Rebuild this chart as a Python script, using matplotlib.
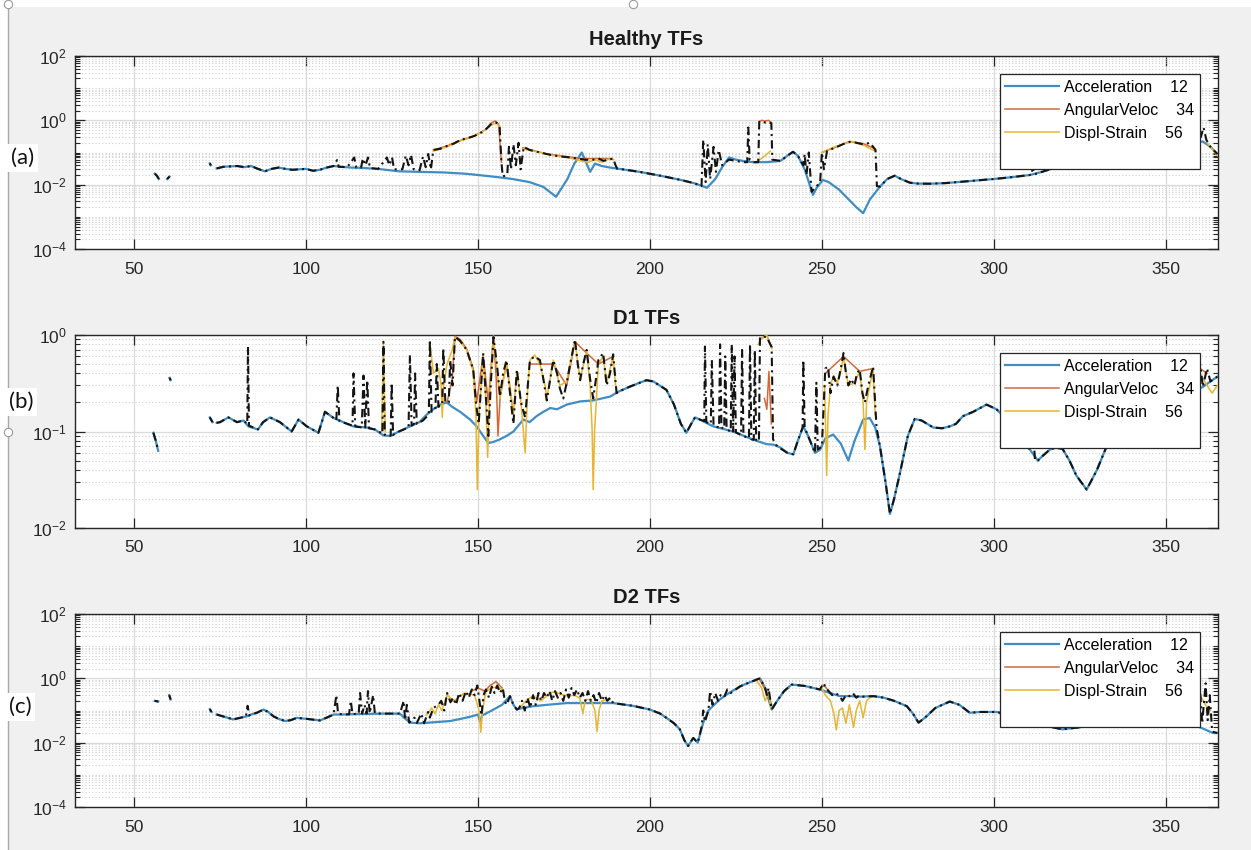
import numpy as np
import matplotlib
matplotlib.use("Agg")
import matplotlib.pyplot as plt
from matplotlib.lines import Line2D
from matplotlib.patches import Rectangle
from matplotlib.ticker import FixedLocator, NullFormatter, LogFormatterSciNotation

plt.rcParams['font.family'] = ['Liberation Sans', 'DejaVu Sans']
plt.rcParams['mathtext.fontset'] = 'custom'
plt.rcParams['mathtext.rm'] = 'Liberation Sans'
plt.rcParams['mathtext.it'] = 'Liberation Sans:italic'
plt.rcParams['mathtext.bf'] = 'Liberation Sans:bold'

nan = float('nan')
GAP = (nan, nan)

titles = ['Healthy TFs', 'D1 TFs', 'D2 TFs']
panel_tags = ['(a)', '(b)', '(c)']
legend_labels = ['Acceleration    12', 'AngularVeloc    34', 'Displ-Strain    56']
x_ticks = [50, 100, 150, 200, 250, 300, 350]

# ---------------- Healthy ----------------
healthy_acc = [
    (56.0, 0.022), (56.6, 0.019), (57.2, 0.015), GAP,
    (59.6, 0.015), (60.3, 0.018), GAP,
    (72.0, 0.046), (72.3, 0.040), GAP,
    (74, 0.032), (76, 0.036), (78, 0.037), (80, 0.038), (82, 0.035), (84, 0.038),
    (86, 0.031), (88, 0.026), (90, 0.031), (92, 0.034), (94, 0.031), (96, 0.029),
    (98, 0.030), (100, 0.031), (102, 0.027), (104, 0.029), (106, 0.034), (108, 0.038),
    (110, 0.036), (113, 0.034), (117, 0.033), (122, 0.030), (127, 0.026), (133, 0.025),
    (140, 0.024), (146, 0.022), (150, 0.020), (156, 0.017), (160, 0.015), (165, 0.012),
    (169, 0.0085), (172.7, 0.0042), (176, 0.015), (178, 0.045), (180.2, 0.10),
    (182.6, 0.025), (184, 0.045), (186, 0.038), (188.4, 0.034), (192, 0.030),
    (197, 0.025), (203, 0.019), (209, 0.014), (213, 0.011), (216.6, 0.008),
    (219, 0.015), (221, 0.035), (223, 0.07), (225, 0.06), (227, 0.055), (230, 0.05),
    (234, 0.05), (238, 0.055), (240, 0.08), (241.6, 0.105), (243, 0.08), (245, 0.03),
    (247.4, 0.0048), (248.5, 0.008), (250.3, 0.014), (252, 0.012), (255, 0.007),
    (258, 0.0033), (260, 0.002), (262, 0.0013), (264, 0.0035), (266.9, 0.0087),
    (269, 0.015), (271.2, 0.019), (273, 0.015), (275.6, 0.0115), (278, 0.0108),
    (281.4, 0.0107), (286, 0.0112), (291, 0.0124), (296, 0.0138), (300, 0.015),
    (305, 0.017), (310.5, 0.020), (314, 0.025), (318, 0.034), (323, 0.040),
    (330, 0.050), (338, 0.070), (345, 0.10), (352, 0.15), (357, 0.20), (360.8, 0.22),
    (363, 0.15), (365, 0.09),
]
healthy_ang = [
    (137, 0.12), (141, 0.16), (145, 0.24), (149, 0.33), (152, 0.50), (154, 0.85),
    (155, 0.95), (156, 0.75), (156.8, 0.05), GAP,
    (163, 0.14), (170, 0.09), (180, 0.065), (189, 0.065), GAP,
    (231.8, 0.9), (232.5, 1.0), (233.5, 0.95), (234.5, 1.0), (235.3, 0.85), GAP,
    (250, 0.10), (255, 0.16), (258, 0.22), (262, 0.19), (265.5, 0.13),
]
healthy_dsp = [
    (137, 0.11), (141, 0.15), (145, 0.23), (149, 0.32), (152, 0.50), (154, 0.75),
    (155.5, 0.80), (156.5, 0.55), GAP,
    (163, 0.13), (168, 0.10), (172, 0.08), (176, 0.07), (178, 0.062), (180, 0.055),
    (182, 0.050), (184, 0.060), (186, 0.050), (188, 0.062), (189.5, 0.060), GAP,
    (232, 0.06), (233.5, 0.08), (235, 0.11), GAP,
    (250, 0.10), (253, 0.14), (256, 0.18), (259, 0.22), (262, 0.17), (265.5, 0.11), GAP,
    (362, 0.20), (365, 0.08),
]
healthy_tf = [
    (56.0, 0.022), (56.6, 0.019), (57.2, 0.015), GAP,
    (59.6, 0.015), (60.3, 0.018), GAP,
    (72.0, 0.046), (72.3, 0.040), GAP,
    (74, 0.032), (76, 0.036), (78, 0.037), (80, 0.038), (82, 0.035), (84, 0.038),
    (86, 0.031), (88, 0.026), (90, 0.031), (92, 0.034), (94, 0.031), (96, 0.029),
    (98, 0.030), (100, 0.031), (102, 0.027), (104, 0.029), (106, 0.034), (108, 0.038),
    (109, 0.058), (109.5, 0.036), (112, 0.035), (114, 0.07), (114.6, 0.034),
    (116, 0.034), (116.5, 0.065), (117.3, 0.04), (118, 0.07), (118.6, 0.033),
    (121, 0.031), (123.5, 0.07), (124.2, 0.04), (125, 0.07), (125.6, 0.03),
    (128, 0.03), (129, 0.08), (129.8, 0.04), (130.5, 0.085), (131.3, 0.03),
    (133, 0.028), (134, 0.075), (134.8, 0.035), (135.5, 0.09), (136.3, 0.03),
    (137, 0.12), (139, 0.13), (141, 0.16), (143, 0.19), (145, 0.25), (147, 0.28),
    (149, 0.33), (151, 0.42), (152.5, 0.55), (154, 0.80), (155.4, 0.85), (156.3, 0.60),
    (156.8, 0.05), (157.2, 0.018), (158.5, 0.02), (159, 0.15), (159.6, 0.03),
    (160.3, 0.18), (161, 0.04), (161.8, 0.20), (162.4, 0.03), (163.3, 0.15),
    (165, 0.12), (168, 0.10), (171, 0.085), (174, 0.075), (177, 0.07), (179, 0.065),
    (181, 0.06), (183, 0.058), (185, 0.065), (186.5, 0.055), (188, 0.06),
    (189.3, 0.065), (190, 0.04), (190.5, 0.031), (192, 0.030), (197, 0.025),
    (203, 0.019), (209, 0.014), (213, 0.011), (215, 0.009), (215.5, 0.25),
    (216.2, 0.012), (216.8, 0.18), (217.5, 0.015), (218.5, 0.15), (219.2, 0.025),
    (220, 0.12), (221, 0.04), (223, 0.06), (225, 0.055), (227, 0.05), (228.3, 0.05),
    (228.6, 0.60), (229, 0.06), (230, 0.05), (231.5, 0.05), (231.8, 0.90),
    (232.5, 0.95), (233.5, 0.85), (234.5, 0.90), (235.3, 0.80), (235.6, 0.06),
    (238, 0.055), (240, 0.08), (241.6, 0.105), (243, 0.08), (244.6, 0.04),
    (245, 0.09), (245.5, 0.02), (246.2, 0.10), (247, 0.006), (248.5, 0.009),
    (249.5, 0.012), (250, 0.10), (250.6, 0.03), (251.5, 0.11), (253, 0.13),
    (255, 0.16), (257, 0.20), (258.5, 0.22), (260, 0.20), (262, 0.18), (264, 0.20),
    (265.6, 0.12), (266, 0.009), (266.9, 0.0087), (269, 0.015), (271.2, 0.019),
    (273, 0.015), (275.6, 0.0115), (278, 0.0108), (281.4, 0.0107), (286, 0.0112),
    (291, 0.0124), (296, 0.0138), (300, 0.015), (305, 0.017), (310.5, 0.020),
    (311, 0.020), (311.3, 0.035), (311.8, 0.021), (314, 0.025), (318, 0.034),
    (323, 0.040), (330, 0.050), (338, 0.070), (345, 0.10), (352, 0.15), (358, 0.20),
    (359.5, 0.80), (360.2, 0.30), (361, 0.60), (361.8, 0.25), (363, 0.15), (365, 0.09),
]

# ---------------- D1 ----------------
d1_acc = [
    (55.6, 0.097), (56.3, 0.08), (57.0, 0.063), GAP,
    (60.3, 0.36), (60.6, 0.34), GAP,
    (72.0, 0.14), (72.8, 0.125), GAP,
    (74, 0.123), (75, 0.125), (77.4, 0.14), (79.9, 0.125), (81.8, 0.13), (83.2, 0.113),
    (86, 0.105), (87.5, 0.125), (89.5, 0.14), (92.4, 0.125), (95.8, 0.10),
    (97.8, 0.133), (100.2, 0.113), (103.6, 0.097), (105.5, 0.16), (108, 0.138),
    (110.8, 0.125), (113.7, 0.113), (117.6, 0.110), (120, 0.105), (122.5, 0.091),
    (124.4, 0.09), (127, 0.10), (130.2, 0.113), (133, 0.125), (135.1, 0.15),
    (137, 0.17), (139, 0.19), (140.9, 0.20), (142.5, 0.18), (144.8, 0.16),
    (147.7, 0.133), (149.6, 0.113), (151.5, 0.09), (153, 0.076), (154.5, 0.078),
    (156.4, 0.083), (158.3, 0.09), (160.3, 0.10), (163.2, 0.133), (165, 0.125),
    (167, 0.144), (169, 0.16), (171, 0.175), (173, 0.17), (175.8, 0.19),
    (179.7, 0.205), (183.5, 0.21), (186, 0.22), (188.4, 0.23), (191, 0.26),
    (194, 0.29), (197, 0.32), (199, 0.34), (201, 0.33), (204.8, 0.27), (207, 0.19),
    (209, 0.12), (210.6, 0.097), (212, 0.12), (213.1, 0.14), (214.5, 0.133),
    (216, 0.125), (218.4, 0.113), (221, 0.107), (224.2, 0.10), (228, 0.088),
    (231, 0.08), (233.9, 0.074), (236, 0.073), (238, 0.068), (240, 0.06),
    (241.7, 0.058), (243, 0.08), (244.6, 0.113), (246, 0.09), (248, 0.06),
    (249.5, 0.065), (251, 0.085), (253.3, 0.093), (255.5, 0.075), (257.7, 0.05),
    (259.5, 0.08), (262, 0.133), (263.9, 0.138), (265.5, 0.11), (266.9, 0.07),
    (268.5, 0.03), (269.8, 0.014), (271, 0.02), (272.7, 0.037), (275, 0.09),
    (277, 0.135), (279, 0.13), (282.4, 0.11), (285, 0.108), (287.2, 0.113),
    (289, 0.12), (291, 0.144), (294, 0.16), (297.9, 0.19), (300.8, 0.17),
    (304, 0.13), (307, 0.09), (310.5, 0.065), (312.8, 0.05), (314, 0.055),
    (316.3, 0.065), (318, 0.068), (320, 0.066), (322, 0.05), (324, 0.035),
    (327, 0.025), (330, 0.04), (332.8, 0.07), (336, 0.10), (342, 0.14), (348, 0.18),
    (354, 0.22), (358, 0.26), (360.8, 0.29), (363, 0.33), (365, 0.37),
]
d1_ang = [
    (141, 0.20), (142.5, 0.35), (143.3, 0.97), (144.8, 0.90), (146.7, 0.72),
    (148.6, 0.45), (149.6, 0.20), (151.5, 0.62), (153, 0.20), (154.5, 1.0),
    (155.3, 0.35), (155.8, 0.09), (156.5, 0.25), (158.3, 0.50), (160.3, 0.15), GAP,
    (165, 0.50), (168, 0.50), (171.9, 0.50), (175.8, 0.30), (178.2, 0.85),
    (181.6, 0.65), (185, 0.50), (189.3, 0.60), GAP,
    (232, 0.90), (233.9, 1.0), (235.4, 0.75), GAP,
    (233.3, 0.22), (234.0, 0.17), (234.6, 0.42), (235.3, 0.12), GAP,
    (251, 0.40), (256.3, 0.60), (261, 0.42), (264.9, 0.45), GAP,
    (358, 0.55), (360, 0.45), (362, 0.40),
]
d1_dsp = [
    (122, 0.10), (122.5, 0.80), (123, 0.10), GAP,
    (136, 0.85), (137, 0.40), (138.5, 0.45), (139.3, 0.30), (139.6, 0.14),
    (140, 0.30), (141, 0.50), (142.5, 0.70), (143.3, 0.95), (144.8, 0.85),
    (146.7, 0.70), (148.6, 0.42), (149.4, 0.15), (149.8, 0.025), (150.3, 0.15),
    (151.5, 0.60), (152.3, 0.20), (152.8, 0.054), (153.4, 0.25), (154.5, 0.90),
    (155.5, 0.45), (156.4, 0.22), (158.3, 0.50), (159.3, 0.30), (160.3, 0.15),
    (161.3, 0.42), (162.5, 0.20), (163.7, 0.06), (164.5, 0.30), (165.1, 0.55),
    (166.5, 0.62), (168, 0.50), (169.5, 0.30), (170, 0.22), (171.9, 0.55),
    (173.8, 0.30), (175.8, 0.33), (177, 0.55), (178.2, 0.85), (179.7, 0.35),
    (181.6, 0.68), (182.6, 0.30), (183.2, 0.10), (183.5, 0.025), (183.9, 0.10),
    (185, 0.50), (186.4, 0.60), (187.4, 0.32), (189.3, 0.60), (190, 0.30), GAP,
    (231.5, 0.80), (232.2, 0.90), (233.9, 1.0), (235.4, 0.72), GAP,
    (250.8, 0.30), (251.1, 0.10), (251.4, 0.035), (251.8, 0.15), (252.5, 0.30),
    (253.4, 0.38), (254.5, 0.32), (255.5, 0.42), (256.3, 0.60), (257.7, 0.30),
    (259.5, 0.32), (261, 0.42), (262, 0.20), (262.5, 0.065), (263, 0.20),
    (264.9, 0.45), (265.5, 0.15), GAP,
    (360, 0.40), (362, 0.30), (363.5, 0.25), (365, 0.30),
]
d1_tf = [
    (55.6, 0.097), (56.3, 0.08), (57.0, 0.063), GAP,
    (60.3, 0.36), (60.6, 0.34), GAP,
    (72.0, 0.14), (72.8, 0.125), GAP,
    (74, 0.123), (75, 0.125), (77.4, 0.14), (79.9, 0.125), (81.8, 0.13), (82.9, 0.12),
    (83.1, 0.76), (83.4, 0.115), (86, 0.105), (87.5, 0.125), (89.5, 0.14),
    (92.4, 0.125), (95.8, 0.10), (97.8, 0.133), (100.2, 0.113), (103.6, 0.097),
    (105.5, 0.16), (108, 0.138), (108.8, 0.13), (109.2, 0.30), (109.7, 0.128),
    (112, 0.12), (113.5, 0.115), (113.8, 0.40), (114.3, 0.113), (116.2, 0.11),
    (116.7, 0.38), (117.2, 0.11), (117.8, 0.34), (118.3, 0.108), (120, 0.105),
    (122.2, 0.095), (122.5, 0.85), (122.9, 0.092), (124.6, 0.09), (124.9, 0.32),
    (125.3, 0.092), (127, 0.10), (129.8, 0.11), (130.2, 0.62), (130.7, 0.115),
    (131.4, 0.12), (131.7, 0.40), (132.2, 0.12), (134, 0.13), (135.7, 0.15),
    (136, 0.89), (136.5, 0.16), (137.6, 0.17), (138, 0.50), (138.5, 0.18),
    (139.6, 0.19), (139.9, 0.73), (140.5, 0.20), (141.5, 0.20), (141.9, 0.55),
    (142.6, 0.30), (143.3, 0.96), (144.8, 0.87), (146.7, 0.70), (148.6, 0.44),
    (149.4, 0.20), (150.2, 0.12), (151.5, 0.65), (152.4, 0.20), (153, 0.09),
    (153.7, 0.30), (154.5, 0.95), (155.5, 0.50), (156.4, 0.23), (157.3, 0.40),
    (158.3, 0.55), (159.3, 0.25), (160.3, 0.12), (161.3, 0.44), (162.5, 0.20),
    (163.7, 0.14), (165.1, 0.55), (166.5, 0.60), (168, 0.55), (169, 0.35),
    (170, 0.21), (171.9, 0.55), (173, 0.40), (173.8, 0.28), (174.8, 0.22),
    (175.8, 0.32), (176.8, 0.50), (178.2, 0.90), (179, 0.50), (179.7, 0.34),
    (180.6, 0.50), (181.6, 0.70), (182.6, 0.35), (183.5, 0.22), (184.3, 0.35),
    (185, 0.55), (186.4, 0.65), (187.4, 0.30), (188.4, 0.40), (189.3, 0.63),
    (189.8, 0.40), (190.3, 0.25), (191, 0.26), (194, 0.29), (197, 0.32), (199, 0.34),
    (201, 0.33), (204.8, 0.27), (207, 0.19), (209, 0.12), (210.6, 0.097),
    (212, 0.12), (213.1, 0.14), (214.5, 0.133), (215.8, 0.128), (216, 0.76),
    (216.4, 0.125), (217.7, 0.12), (218, 0.55), (218.5, 0.115), (220.1, 0.11),
    (220.4, 0.80), (220.8, 0.11), (221.6, 0.107), (221.9, 0.60), (222.3, 0.105),
    (223.5, 0.10), (223.8, 0.80), (224.2, 0.10), (224.6, 0.60), (225, 0.098),
    (226.5, 0.092), (226.8, 0.70), (227.2, 0.09), (228.8, 0.085), (229.1, 0.80),
    (229.5, 0.083), (230.2, 0.082), (230.5, 0.70), (230.9, 0.08), (231.7, 0.08),
    (232, 0.95), (233.9, 0.96), (235.4, 0.75), (235.8, 0.083), (237, 0.07),
    (240, 0.06), (241.7, 0.058), (243, 0.08), (244.4, 0.11), (244.6, 0.55),
    (245, 0.11), (246, 0.09), (248, 0.06), (248.4, 0.32), (248.8, 0.065),
    (250, 0.07), (251, 0.45), (251.8, 0.47), (252.5, 0.25), (253.4, 0.37),
    (254.5, 0.30), (255.5, 0.45), (256.3, 0.65), (257, 0.40), (257.7, 0.30),
    (258.5, 0.35), (259.5, 0.30), (260.2, 0.40), (261, 0.44), (261.8, 0.25),
    (262.5, 0.20), (263.5, 0.30), (264.9, 0.47), (265.5, 0.20), (265.9, 0.11),
    (266.9, 0.07), (268.5, 0.03), (269.8, 0.014), (271, 0.02), (272.7, 0.037),
    (275, 0.09), (277, 0.135), (279, 0.13), (282.4, 0.11), (285, 0.108),
    (287.2, 0.113), (289, 0.12), (291, 0.144), (294, 0.16), (297.9, 0.19),
    (300.8, 0.17), (304, 0.13), (307, 0.09), (310.5, 0.065), (311.5, 0.09),
    (312, 0.05), (312.8, 0.05), (314, 0.055), (316.3, 0.065), (318, 0.068),
    (320, 0.066), (322, 0.05), (324, 0.035), (327, 0.025), (330, 0.04),
    (332.8, 0.07), (336, 0.10), (342, 0.14), (348, 0.18), (354, 0.22), (357, 0.25),
    (358, 0.60), (358.6, 0.30), (360, 0.50), (360.8, 0.29), (362, 0.45),
    (363, 0.33), (365, 0.37),
]

# ---------------- D2 ----------------
d2_acc = [
    (56.0, 0.20), (57.0, 0.19), GAP,
    (60.2, 0.30), (60.6, 0.22), GAP,
    (72.0, 0.11), (72.5, 0.09), GAP,
    (74, 0.075), (76, 0.065), (78.8, 0.053), (80.5, 0.058), (82.8, 0.066), (84, 0.075),
    (85.7, 0.085), (87.6, 0.107), (89, 0.09), (90.5, 0.066), (92, 0.055),
    (93.9, 0.047), (95.5, 0.05), (97.3, 0.059), (100.2, 0.055), (104, 0.049),
    (106, 0.06), (108, 0.075), (110.8, 0.075), (114, 0.077), (117.6, 0.078),
    (122, 0.08), (127.3, 0.08), (128.5, 0.06), (130.2, 0.042), (133.1, 0.04),
    (137, 0.043), (141.9, 0.047), (145, 0.055), (148, 0.065), (150, 0.075),
    (150.6, 0.045), (151.2, 0.07), (154, 0.10), (157, 0.15), (159.3, 0.28),
    (160.3, 0.15), (161.3, 0.107), (163, 0.12), (166.1, 0.136), (170, 0.15),
    (175.8, 0.17), (182, 0.17), (189.3, 0.17), (195, 0.14), (200, 0.107),
    (203, 0.08), (204.8, 0.059), (207, 0.04), (208.7, 0.026), (210, 0.012),
    (211.1, 0.0079), (212.6, 0.014), (213.9, 0.01), (215.5, 0.042), (217, 0.10),
    (220.3, 0.22), (223, 0.35), (226.2, 0.56), (229, 0.75), (232, 1.0), (233.5, 0.50),
    (235.4, 0.107), (237, 0.20), (239, 0.40), (241.2, 0.64), (245, 0.58),
    (249.4, 0.45), (252, 0.36), (255.2, 0.28), (258, 0.28), (261, 0.27), (265, 0.28),
    (268, 0.25), (271, 0.20), (274.7, 0.136), (276.5, 0.08), (278.1, 0.042),
    (280, 0.06), (283, 0.12), (287.2, 0.19), (290, 0.15), (293, 0.085), (296, 0.09),
    (300.8, 0.09), (304, 0.075), (308, 0.055), (312, 0.04), (315.2, 0.033),
    (320, 0.026), (325, 0.03), (330, 0.04), (335, 0.05), (340, 0.06), (345, 0.06),
    (350, 0.055), (355, 0.045), (358.9, 0.033), (361, 0.027), (363.7, 0.02),
    (365, 0.02),
]
d2_ang = [
    (148, 0.40), (150, 0.50), (152, 0.40), (153.5, 0.60), (154.5, 0.70),
    (155.2, 0.80), (156, 0.65), (157, 0.50), GAP,
    (232, 0.90), (233.5, 0.45), (234.5, 0.30), (235.4, 0.15), GAP,
    (250, 0.60), (251, 0.55), (252, 0.40),
]
d2_dsp = [
    (135, 0.07), (136.5, 0.12), (137.5, 0.08), (138.5, 0.15), (139.5, 0.10),
    (141, 0.30), (143, 0.20), (146, 0.35), (149, 0.30), (150.3, 0.10),
    (150.8, 0.021), (151.3, 0.10), (152.3, 0.40), (154, 0.50), (155.6, 0.55),
    (157, 0.45), GAP,
    (162, 0.12), (164.4, 0.22), (166, 0.28), (168.4, 0.20), (170.8, 0.35),
    (172.4, 0.38), (174, 0.32), (176.4, 0.28), (178, 0.30), (179.6, 0.24),
    (180.5, 0.08), (181.2, 0.22), (182.8, 0.22), (184, 0.10), (184.6, 0.022),
    (185.2, 0.10), (186, 0.20), (188.4, 0.22), GAP,
    (231, 0.85), (232.5, 0.50), (233.5, 0.20), (234.5, 0.35), (235.2, 0.12), GAP,
    (250, 0.50), (251, 0.30), (252.5, 0.20), (253.5, 0.08), (254.2, 0.025),
    (255, 0.10), (256, 0.12), (257, 0.04), (258, 0.15), (259.2, 0.03), (260, 0.10),
    (261, 0.20), (262, 0.06), (263, 0.20), (264, 0.25), (265, 0.27), GAP,
    (360, 0.30), (361.5, 0.15), (363, 0.10),
]
d2_tf = [
    (56.0, 0.20), (57.0, 0.19), GAP,
    (60.2, 0.30), (60.6, 0.22), GAP,
    (72.0, 0.11), (72.5, 0.09), GAP,
    (74, 0.075), (76, 0.065), (78.8, 0.053), (80.5, 0.058), (82.5, 0.065),
    (83, 0.14), (83.5, 0.07), (84, 0.075), (85.7, 0.085), (87.6, 0.107), (89, 0.09),
    (90.5, 0.066), (92, 0.055), (93.9, 0.047), (95.5, 0.05), (97.3, 0.059),
    (100.2, 0.055), (104, 0.049), (106, 0.06), (108, 0.075), (108.8, 0.30),
    (109.3, 0.08), (110.8, 0.075), (112.5, 0.076), (113, 0.20), (113.5, 0.078),
    (115.3, 0.078), (115.7, 0.35), (116.3, 0.08), (117, 0.15), (117.6, 0.08),
    (118, 0.40), (118.5, 0.082), (119.5, 0.30), (120, 0.082), (122, 0.08),
    (125, 0.08), (127.3, 0.08), (128.4, 0.20), (128.8, 0.05), (129.3, 0.15),
    (130, 0.042), (131.5, 0.06), (132.2, 0.041), (133.5, 0.08), (134.3, 0.04),
    (135.5, 0.09), (136, 0.06), (137, 0.12), (138.5, 0.15), (139.3, 0.20),
    (140.2, 0.10), (141, 0.35), (142, 0.18), (142.8, 0.25), (143.6, 0.15),
    (144.5, 0.35), (145.5, 0.20), (146.5, 0.40), (147.3, 0.25), (148.2, 0.45),
    (149, 0.30), (149.8, 0.60), (150.4, 0.20), (151, 0.07), (151.6, 0.30),
    (152.3, 0.45), (153.2, 0.25), (154, 0.55), (154.8, 0.35), (155.6, 0.60),
    (156.4, 0.35), (157.2, 0.50), (157.8, 0.20), (158.3, 0.15), (159.3, 0.28),
    (160.3, 0.15), (161.3, 0.107), (162, 0.12), (162.8, 0.20), (163.6, 0.10),
    (164.4, 0.25), (165.2, 0.12), (166, 0.30), (166.8, 0.15), (167.6, 0.35),
    (168.4, 0.20), (169.2, 0.35), (170, 0.25), (170.8, 0.40), (171.6, 0.20),
    (172.4, 0.40), (173.2, 0.25), (174, 0.35), (174.8, 0.20), (175.6, 0.45),
    (176.4, 0.25), (177.2, 0.50), (178, 0.30), (178.8, 0.45), (179.6, 0.25),
    (180.4, 0.35), (181.2, 0.20), (182, 0.40), (182.8, 0.20), (183.6, 0.30),
    (184.4, 0.17), (185.2, 0.35), (186, 0.20), (186.8, 0.30), (187.6, 0.20),
    (188.4, 0.25), (189.3, 0.17), (195, 0.14), (200, 0.107), (203, 0.08),
    (204.8, 0.059), (207, 0.04), (208.7, 0.026), (210, 0.012), (211.1, 0.0079),
    (212.6, 0.014), (213.9, 0.01), (215, 0.03), (215.5, 0.10), (216, 0.045),
    (217, 0.10), (217.5, 0.40), (218.2, 0.15), (219, 0.35), (219.8, 0.20),
    (220.5, 0.30), (221.5, 0.25), (222.5, 0.45), (223.5, 0.35), (226.2, 0.56),
    (229, 0.75), (232, 1.0), (233.5, 0.50), (234, 0.30), (234.5, 0.50),
    (235.4, 0.107), (237, 0.20), (239, 0.40), (241.2, 0.64), (245, 0.58),
    (249.4, 0.45), (250.5, 0.70), (251.2, 0.50), (252, 0.40), (253, 0.30),
    (254, 0.35), (255.2, 0.28), (256, 0.20), (257, 0.30), (258, 0.28), (259, 0.35),
    (260, 0.25), (261, 0.30), (262, 0.27), (265, 0.28), (268, 0.25), (271, 0.20),
    (274.7, 0.136), (276.5, 0.08), (278.1, 0.042), (280, 0.06), (283, 0.12),
    (287.2, 0.19), (290, 0.15), (293, 0.085), (296, 0.09), (300.8, 0.09),
    (304, 0.075), (308, 0.055), (312, 0.04), (315.2, 0.033), (320, 0.026),
    (325, 0.03), (330, 0.04), (335, 0.05), (340, 0.06), (345, 0.06), (350, 0.055),
    (355, 0.045), (358.9, 0.033), (359.5, 0.03), (360, 0.40), (360.6, 0.04),
    (361.6, 0.70), (362.2, 0.05), (362.8, 0.30), (363.5, 0.022), (365, 0.02),
]

panels = [
    dict(acc=healthy_acc, ang=healthy_ang, dsp=healthy_dsp, tf=healthy_tf,
         ylim=(1e-4, 1e2), majors=[1e-4, 1e-2, 1e0, 1e2]),
    dict(acc=d1_acc, ang=d1_ang, dsp=d1_dsp, tf=d1_tf,
         ylim=(1e-2, 1e0), majors=[1e-2, 1e-1, 1e0]),
    dict(acc=d2_acc, ang=d2_ang, dsp=d2_dsp, tf=d2_tf,
         ylim=(1e-4, 1e2), majors=[1e-4, 1e-2, 1e0, 1e2]),
]

C_ACC = '#3f8dc4'
C_ANG = '#d2693a'
C_DSP = '#e8b530'
C_TF = '#141414'
AX_COL = '#262626'

W, H = 1251, 850
fig = plt.figure(figsize=(W / 100, H / 100), dpi=100, facecolor='#f0f0f0')

# window chrome: white strip at top and left edge with a thin border line
fig.add_artist(Rectangle((0, 1 - 7 / H), 1, 7 / H, transform=fig.transFigure,
                         facecolor='white', edgecolor='none', zorder=0))
fig.add_artist(Rectangle((0, 0), 8 / W, 1, transform=fig.transFigure,
                         facecolor='white', edgecolor='none', zorder=0))
fig.add_artist(Line2D([8 / W, 8 / W], [0, 1], transform=fig.transFigure,
                      color='#a8a8a8', lw=1.0))
for hx, hy in [(8, 4), (633, 4), (8, 432)]:
    fig.add_artist(Line2D([hx / W], [1 - hy / H], transform=fig.transFigure,
                          marker='o', ms=6, mfc='white', mec='#9a9a9a', mew=0.8))

ax_left, ax_right = 75, 1218
ax_tops = [56, 335, 614]
ax_h = 193
tag_pos = [(11, 158, '(a)'), (9, 402, '(b)'), (9, 707, '(c)')]


def split(pairs):
    arr = np.array(pairs, dtype=float)
    return arr[:, 0], arr[:, 1]


for i, p in enumerate(panels):
    top = ax_tops[i]
    ax = fig.add_axes([ax_left / W, 1 - (top + ax_h) / H,
                       (ax_right - ax_left) / W, ax_h / H])
    ax.set_facecolor('white')
    ax.set_yscale('log')
    ax.set_xlim(32.8, 365.2)
    ax.set_ylim(*p['ylim'])

    x, y = split(p['acc'])
    h1, = ax.plot(x, y, color=C_ACC, lw=1.6, zorder=3)
    x, y = split(p['ang'])
    h2, = ax.plot(x, y, color=C_ANG, lw=1.1, zorder=4)
    x, y = split(p['dsp'])
    h3, = ax.plot(x, y, color=C_DSP, lw=1.1, zorder=5)
    x, y = split(p['tf'])
    ax.plot(x, y, color=C_TF, lw=1.5, ls=(0, (4, 2, 1, 2)), zorder=6)

    lo, hi = np.log10(p['ylim'])
    minors = [m * 10.0 ** k for k in range(int(lo), int(hi)) for m in range(1, 10)
              if not any(np.isclose(m * 10.0 ** k, v) for v in p['majors'])]
    ax.yaxis.set_major_locator(FixedLocator(p['majors']))
    ax.yaxis.set_major_formatter(LogFormatterSciNotation())
    ax.yaxis.set_minor_locator(FixedLocator(minors))
    ax.yaxis.set_minor_formatter(NullFormatter())
    ax.set_xticks(x_ticks)

    ax.grid(True, which='major', axis='both', color='#dadada', lw=0.9, ls='-', zorder=0)
    ax.grid(True, which='minor', axis='y', color='#cfcfcf', lw=0.8, ls=(0, (1, 2)), zorder=0)
    ax.set_axisbelow(True)

    ax.tick_params(which='both', direction='in', top=True, right=True,
                   colors=AX_COL, labelcolor=AX_COL, labelsize=12.5)
    ax.tick_params(which='major', length=7, width=0.9)
    ax.tick_params(which='minor', length=3.5, width=0.8)
    ax.tick_params(axis='x', pad=9)
    ax.tick_params(axis='y', pad=6)
    for s in ax.spines.values():
        s.set_color(AX_COL)
        s.set_linewidth(1.0)

    ax.set_title(titles[i], fontsize=14.5, fontweight='bold', color='#1a1a1a', pad=8)

    blank = Line2D([], [], color='none')
    leg = ax.legend([h1, h2, h3, blank], legend_labels + [' '],
                    loc='upper right',
                    bbox_to_anchor=((1200 - ax_left) / (ax_right - ax_left), 1 - 18 / ax_h),
                    borderaxespad=0, fontsize=11.5, handlelength=3.4,
                    handletextpad=0.3, labelspacing=0.5, borderpad=0.35,
                    fancybox=False, framealpha=1, edgecolor=AX_COL)
    leg.get_frame().set_linewidth(0.9)
    leg.set_zorder(10)

    tx, ty, tag = tag_pos[i]
    fig.text(tx / W, 1 - ty / H, tag, family=['Lato', 'DejaVu Sans'], fontsize=16,
             ha='left', va='center', color='#111111',
             bbox=dict(facecolor='white', edgecolor='none', pad=2.5))

fig.savefig('out.png', dpi=100, facecolor=fig.get_facecolor())
